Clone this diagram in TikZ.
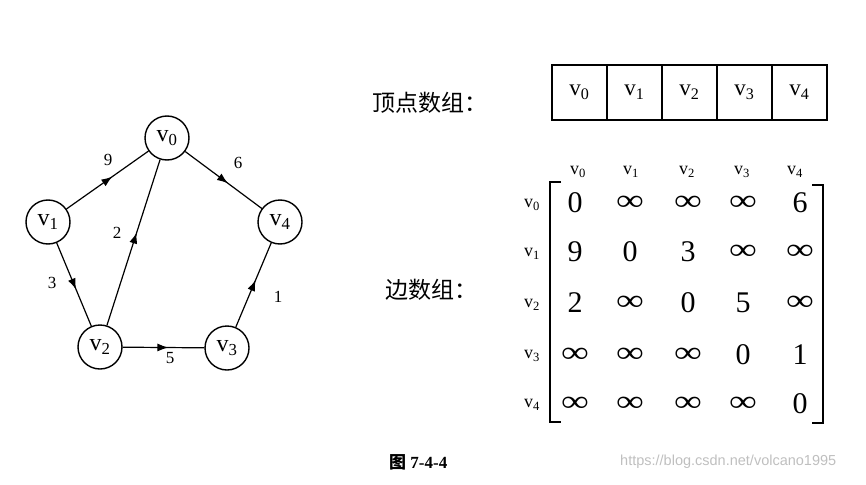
\documentclass[tikz,border=0pt]{standalone}
\usepackage{fontspec}
\setmainfont{Liberation Serif}
\newfontfamily\cjk{Noto Sans CJK SC}
\newfontfamily\wmfont{Liberation Sans}
\usetikzlibrary{decorations.markings,arrows.meta}
\newcommand{\vv}[1]{v\textsubscript{#1}}
\newcommand{\inff}{\scalebox{1.3}[1]{∞}}
\tikzset{
  vtx/.style={circle, draw, line width=1.4pt, minimum size=44pt, inner sep=0pt, font=\fontsize{24}{26}\selectfont},
  edge/.style={line width=1.2pt, postaction={decorate},
    decoration={markings, mark=at position 0.56 with {\arrow{Latex[length=11pt,width=8pt]}}}},
  elab/.style={font=\fontsize{17}{19}\selectfont, inner sep=0pt},
  cell/.style={draw, line width=1.4pt, minimum width=55pt, minimum height=55pt, inner sep=0pt, font=\fontsize{23}{25}\selectfont},
  hdr/.style={font=\fontsize{18}{20}\selectfont, inner sep=0pt},
  ent/.style={font=\fontsize{30}{32}\selectfont, inner sep=0pt},
  cjklab/.style={font=\cjk\fontsize{23}{25}\selectfont, anchor=west, inner sep=0pt},
  brk/.style={line width=1.6pt},
}
\begin{document}
\begin{tikzpicture}[x=1pt,y=-1pt]
\useasboundingbox (0,0) rectangle (866,484);
% graph
\node[vtx] (v0) at (167,138) {\vv{0}};
\node[vtx] (v1) at (48,222) {\vv{1}};
\node[vtx] (v4) at (280,222) {\vv{4}};
\node[vtx] (v2) at (100,347) {\vv{2}};
\node[vtx] (v3) at (227,348) {\vv{3}};
\draw[edge] (v1) -- (v0);
\draw[edge] (v0) -- (v4);
\draw[edge] (v2) -- (v0);
\draw[edge] (v1) -- (v2);
\draw[edge] (v2) -- (v3);
\draw[edge] (v3) -- (v4);
\node[elab] (l9) at (108,160) {9};
\node[elab] (l6) at (238,163) {6};
\node[elab] (l2) at (117,233) {2};
\node[elab] (l3) at (52,283) {3};
\node[elab] (l1) at (278,297) {1};
\node[elab] (l5) at (170,358) {5};
% vertex array
\node[cjklab] (t1) at (372,103) {顶点数组：};
\foreach \i/\x in {0/579.5,1/634.5,2/689.5,3/744.5,4/799.5}{
  \node[cell] (c\i) at (\x,92.5) {\vv{\i}};
}
% edge array
\node[cjklab] (t2) at (385,290) {边数组：};
\foreach \i/\x in {0/578,1/631,2/687,3/742,4/795}{
  \node[hdr] (h\i) at (\x,172) {\vv{\i}};
}
\foreach \i/\y in {0/205,1/254,2/305,3/356,4/405}{
  \node[hdr] (r\i) at (532,\y) {\vv{\i}};
}
\draw[brk] (561,182) -- (550,182) -- (550,422) -- (561,422);
\draw[brk] (812,185) -- (823,185) -- (823,423) -- (812,423);
\foreach \r/\y in {0/203,1/252,2/303,3/355,4/404}{
  \foreach \c/\x in {0/575,1/630,2/688,3/743,4/800}{
    \coordinate (m\r\c) at (\x,\y);
  }
}
\node[ent] at (m00) {0};
\node[ent] at (m01) {\inff};
\node[ent] at (m02) {\inff};
\node[ent] at (m03) {\inff};
\node[ent] at (m04) {6};
\node[ent] at (m10) {9};
\node[ent] at (m11) {0};
\node[ent] at (m12) {3};
\node[ent] at (m13) {\inff};
\node[ent] at (m14) {\inff};
\node[ent] at (m20) {2};
\node[ent] at (m21) {\inff};
\node[ent] at (m22) {0};
\node[ent] at (m23) {5};
\node[ent] at (m24) {\inff};
\node[ent] at (m30) {\inff};
\node[ent] at (m31) {\inff};
\node[ent] at (m32) {\inff};
\node[ent] at (m33) {0};
\node[ent] at (m34) {1};
\node[ent] at (m40) {\inff};
\node[ent] at (m41) {\inff};
\node[ent] at (m42) {\inff};
\node[ent] at (m43) {\inff};
\node[ent] at (m44) {0};
% caption
\node[anchor=west, inner sep=0pt, font=\fontsize{17}{19}\selectfont\bfseries] (cap) at (389,462) {{\cjk 图} 7-4-4};
\node[anchor=west, inner sep=0pt, font=\wmfont\fontsize{14.5}{16}\selectfont, text=black!25] (wm) at (620,462) {https://blog.csdn.net/volcano1995};
\end{tikzpicture}
\end{document}
